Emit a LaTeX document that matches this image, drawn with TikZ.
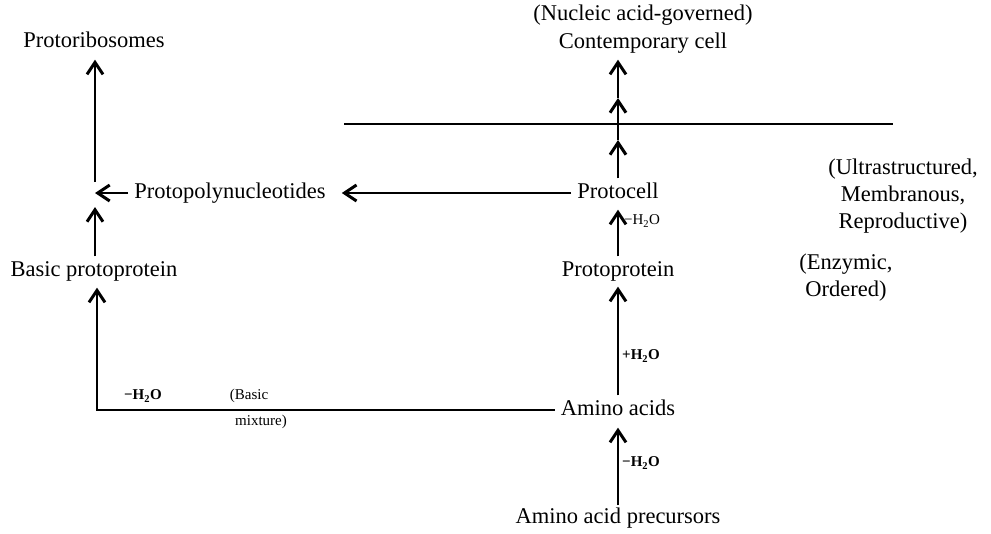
\documentclass[tikz,border=0pt]{standalone}
\usepackage{fontspec}
\setmainfont{Liberation Serif}
\usetikzlibrary{arrows.meta}
\begin{document}
\begin{tikzpicture}[x=1pt,y=-1pt,
  lbl/.style={font=\fontsize{22.5}{27}\selectfont, inner xsep=6pt, inner ysep=0pt,
              text height=16pt, text depth=5pt},
  note/.style={font=\fontsize{22.5}{27}\selectfont, inner sep=0pt, align=center},
  small/.style={font=\fontsize{15}{16}\selectfont\bfseries, inner sep=0pt},
  smalln/.style={font=\fontsize{15}{16}\selectfont, inner sep=0pt},
  conn/.style={line width=2pt},
  arr/.style={conn, -{Straight Barb[length=12pt,width=16pt,line width=3pt]}}]
\useasboundingbox (0,0) rectangle (991,533);

% nodes
\node[note] (nucleic) at (643,15) {(Nucleic acid-governed)};
\node[lbl] (contemp) at (643,43) {Contemporary cell};
\node[lbl] (protorib) at (94,42) {Protoribosomes};
\node[lbl] (protocell) at (618,193) {Protocell};
\node[lbl] (protopoly) at (230,193) {Protopolynucleotides};
\node[lbl] (basic) at (94,271) {Basic protoprotein};
\node[lbl] (protoprot) at (618,271) {Protoprotein};
\node[lbl] (amino) at (618,410) {Amino acids};
\node[lbl] (precur) at (618,518) {Amino acid precursors};
\node[note] (ultra) at (903,196) {(Ultrastructured,\\Membranous,\\Reproductive)};
\node[note] (enzym) at (846,278) {(Enzymic,\\Ordered)};

% small labels
\node[smalln, anchor=west] (w1) at (624,221) {−H\textsubscript{2}O};
\node[small, anchor=west] (w2) at (622,356) {+H\textsubscript{2}O};
\node[small, anchor=west] (w3) at (622,463) {−H\textsubscript{2}O};
\node[small] (w4) at (143,396) {−H\textsubscript{2}O};
\node[smalln] (bas1) at (249,396) {(Basic};
\node[smalln] (bas2) at (261,422) {mixture)};

% coordinates
\coordinate (junc) at (95,193);
\coordinate (corner) at (97,410);
\coordinate (m1) at (618,98);
\coordinate (m2) at (618,140);
\coordinate (hl) at (344,124);
\coordinate (hr) at (893,124);

% separator line
\draw[line width=2.2pt] (hl) -- (hr);

% central column
\draw[arr, shorten <=2pt, shorten >=7pt] (precur.north) -- (amino.south);
\draw[arr, shorten <=4pt, shorten >=5pt] (amino.north) -- (protoprot.south);
\draw[arr, shorten <=4pt, shorten >=6pt] (protoprot.north) -- (protocell.south);
\draw[arr, shorten <=4pt] (protocell.north) -- (m2);
\draw[arr] (m2) -- (m1);
\draw[arr, shorten >=6pt] (m1) -- (m1 |- contemp.south);

% horizontal
\draw[arr, shorten >=10pt] (protocell.west) -- (protopoly.east);
\draw[arr] (protopoly.west) -- (junc);

% left column
\draw[arr, shorten <=11pt, shorten >=7pt] (junc) -- (junc |- protorib.south);
\draw[arr, shorten <=4pt, shorten >=14pt] (basic.north -| junc) -- (junc);
\draw[arr, shorten >=6pt] (amino.west) -- (corner) -- (corner |- basic.south);
\end{tikzpicture}
\end{document}
